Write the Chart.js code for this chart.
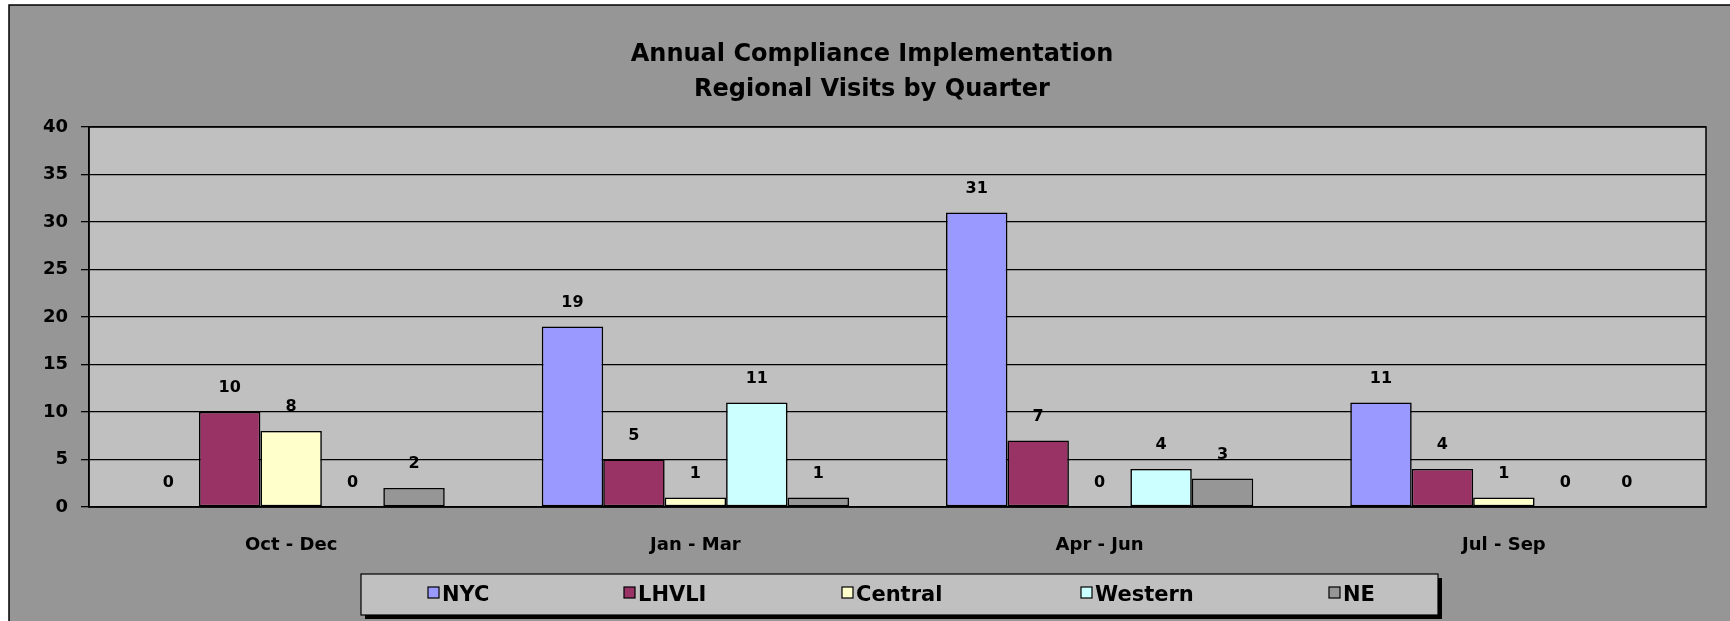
<!DOCTYPE html>
<html>
<head>
<meta charset="utf-8">
<script src="https://cdn.jsdelivr.net/npm/chart.js@4"></script>
<style>
  html, body { margin: 0; padding: 0; background: #fff; }
  #wrap { width: 1730px; height: 621px; }
</style>
</head>
<body>
<div id="wrap"><canvas id="visitsChart" width="1730" height="621"></canvas></div>
<script>
const quarters = ['Oct - Dec', 'Jan - Mar', 'Apr - Jun', 'Jul - Sep'];
const regions = ['NYC', 'LHVLI', 'Central', 'Western', 'NE'];
const nycVisits = [0, 19, 31, 11];
const lhvliVisits = [10, 5, 7, 4];
const centralVisits = [8, 1, 0, 1];
const westernVisits = [0, 11, 4, 0];
const neVisits = [2, 1, 3, 0];
const regionColors = ['#9999FF', '#993366', '#FFFFCC', '#CCFFFF', '#969696'];
const titleLines = ['Annual Compliance Implementation', 'Regional Visits by Quarter'];

const FONT = '"DejaVu Sans", Verdana, sans-serif';

// background, frame, title and the legend box are drawn by hand
const frame = {
    id: 'frame',
    beforeDraw(chart) {
        const c = chart.ctx, a = chart.chartArea;
        c.save();
        c.fillStyle = '#fff';
        c.fillRect(0, 0, chart.width, chart.height);
        c.fillStyle = '#969696';
        c.fillRect(9, 5, chart.width, chart.height);
        c.strokeStyle = '#000';
        c.lineWidth = 1.5;
        c.strokeRect(9, 5, chart.width + 10, chart.height + 10);
        c.fillStyle = '#C0C0C0';
        c.fillRect(a.left, a.top, a.right - a.left, a.bottom - a.top);

        c.fillStyle = '#000';
        c.font = 'bold 24px ' + FONT;
        c.textAlign = 'center';
        c.textBaseline = 'alphabetic';
        c.fillText(titleLines[0], 872, 61);
        c.fillText(titleLines[1], 872, 96);
        c.restore();
    },
    afterDatasetsDraw(chart) {
        const c = chart.ctx, a = chart.chartArea;
        c.save();
        c.strokeStyle = '#000';
        c.lineWidth = 1.5;
        c.strokeRect(a.left, a.top, a.right - a.left, a.bottom - a.top);

        // value labels
        c.fillStyle = '#000';
        c.font = 'bold 16px ' + FONT;
        c.textAlign = 'center';
        c.textBaseline = 'middle';
        chart.data.datasets.forEach((ds, i) => {
            chart.getDatasetMeta(i).data.forEach((bar, j) => {
                c.fillText(String(ds.data[j]), bar.x, bar.y - 24);
            });
        });

        // legend
        const lx = 361, ly = 574, lw = 1077, lh = 41;
        c.fillStyle = '#000';
        c.fillRect(lx + 4, ly + 4, lw, lh);
        c.fillStyle = '#C0C0C0';
        c.fillRect(lx, ly, lw, lh);
        c.lineWidth = 1.2;
        c.strokeRect(lx, ly, lw, lh);
        const boxX = [428, 624, 842, 1081, 1329];
        c.font = 'bold 21px ' + FONT;
        c.textAlign = 'left';
        c.textBaseline = 'alphabetic';
        chart.data.datasets.forEach((ds, i) => {
            c.fillStyle = ds.backgroundColor;
            c.fillRect(boxX[i], 587, 11, 11);
            c.lineWidth = 1.2;
            c.strokeRect(boxX[i], 587, 11, 11);
            c.fillStyle = '#000';
            c.fillText(ds.label, boxX[i] + 14, 601);
        });
        c.restore();
    }
};

const seriesValues = [nycVisits, lhvliVisits, centralVisits, westernVisits, neVisits];

new Chart(document.getElementById('visitsChart'), {
    type: 'bar',
    data: {
        labels: quarters,
        datasets: regions.map((name, i) => ({
            label: name,
            data: seriesValues[i],
            backgroundColor: regionColors[i],
            borderColor: '#000',
            borderWidth: 1.6,
            borderSkipped: false,
            categoryPercentage: 0.76,
            barPercentage: 1.0
        }))
    },
    options: {
        responsive: false,
        animation: false,
        layout: { padding: { top: 127, right: 24, left: 0, bottom: 0 } },
        plugins: { legend: { display: false }, title: { display: false }, tooltip: { enabled: false } },
        scales: {
            x: {
                grid: { display: false },
                border: { display: true, color: '#000', width: 1.5 },
                ticks: { color: '#000', font: { family: FONT, size: 18, weight: 'bold' }, padding: 20, maxRotation: 0 },
                afterFit(scale) { scale.height = 114; }
            },
            y: {
                min: 0,
                max: 40,
                ticks: { stepSize: 5, color: '#000', font: { family: FONT, size: 18, weight: 'bold' }, padding: 13 },
                grid: { color: '#000', lineWidth: 1.3, tickLength: 8, drawTicks: true },
                border: { display: true, color: '#000', width: 1.5 },
                afterFit(scale) { scale.width = 89; }
            }
        }
    },
    plugins: [frame]
});
</script>
</body>
</html>
